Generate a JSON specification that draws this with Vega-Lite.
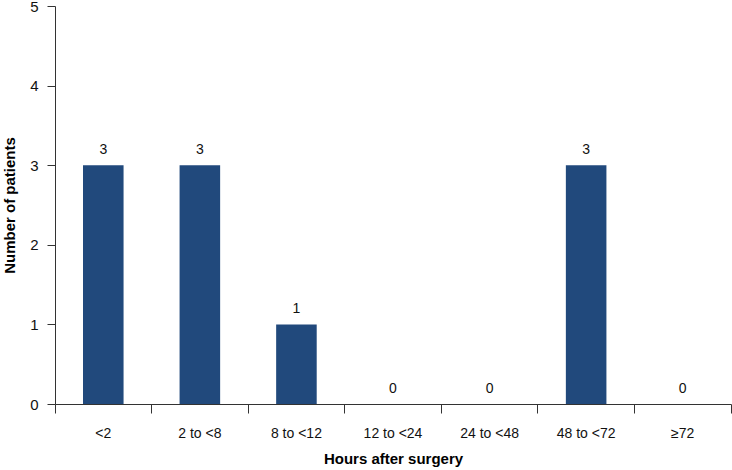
{
  "$schema": "https://vega.github.io/schema/vega-lite/v6.json",
  "autosize": "none",
  "width": 676,
  "height": 398,
  "padding": {"left": 55, "top": 6, "right": 1, "bottom": 66},
  "background": "white",
  "config": {
    "view": {"stroke": null},
    "font": "Liberation Sans",
    "axis": {
      "labelFont": "Liberation Sans",
      "titleFont": "Liberation Sans",
      "labelFontSize": 14,
      "titleFontSize": 15,
      "titleFontWeight": "bold",
      "labelColor": "#111",
      "titleColor": "#000",
      "domainColor": "#333",
      "tickColor": "#333",
      "grid": false
    }
  },
  "data": {
    "values": [
      {"hours": "<2", "patients": 3},
      {"hours": "2 to <8", "patients": 3},
      {"hours": "8 to <12", "patients": 1},
      {"hours": "12 to <24", "patients": 0},
      {"hours": "24 to <48", "patients": 0},
      {"hours": "48 to <72", "patients": 3},
      {"hours": "≥72", "patients": 0}
    ]
  },
  "encoding": {
    "x": {
      "field": "hours",
      "type": "nominal",
      "sort": null,
      "scale": {"paddingInner": 0, "paddingOuter": 0}
    },
    "y": {
      "field": "patients",
      "type": "quantitative",
      "scale": {"domain": [0, 5], "nice": false}
    }
  },
  "layer": [
    {
      "mark": {"type": "bar", "color": "#21497c", "width": {"band": 0.42}},
      "encoding": {
        "x": {
          "field": "hours", "type": "nominal", "sort": null,
          "axis": {
            "title": "Hours after surgery",
            "orient": "bottom",
            "labelAngle": 0,
            "bandPosition": 0,
            "labelBound": false,
            "labelFontSize": 14,
            "tickSize": 9,
            "labelPadding": 13,
            "titlePadding": 11,
            "labelFlush": false
          }
        },
        "y": {
          "field": "patients", "type": "quantitative",
          "axis": {
            "title": "Number of patients",
            "values": [0, 1, 2, 3, 4, 5],
            "format": "d",
            "labelFontSize": 15,
            "tickSize": 8,
            "labelPadding": 9,
            "titlePadding": 12
          }
        }
      }
    },
    {
      "mark": {"type": "text", "dy": -15, "fontSize": 14, "color": "#111", "font": "Liberation Sans"},
      "encoding": {
        "text": {"field": "patients", "type": "quantitative"},
        "x": {
          "field": "hours", "type": "nominal", "sort": null,
          "axis": {
            "orient": "bottom",
            "title": null,
            "labels": false,
            "domain": false,
            "bandPosition": 1,
            "tickSize": 9,
            "values": ["≥72"]
          }
        }
      }
    }
  ],
  "resolve": {"axis": {"x": "independent"}}
}
